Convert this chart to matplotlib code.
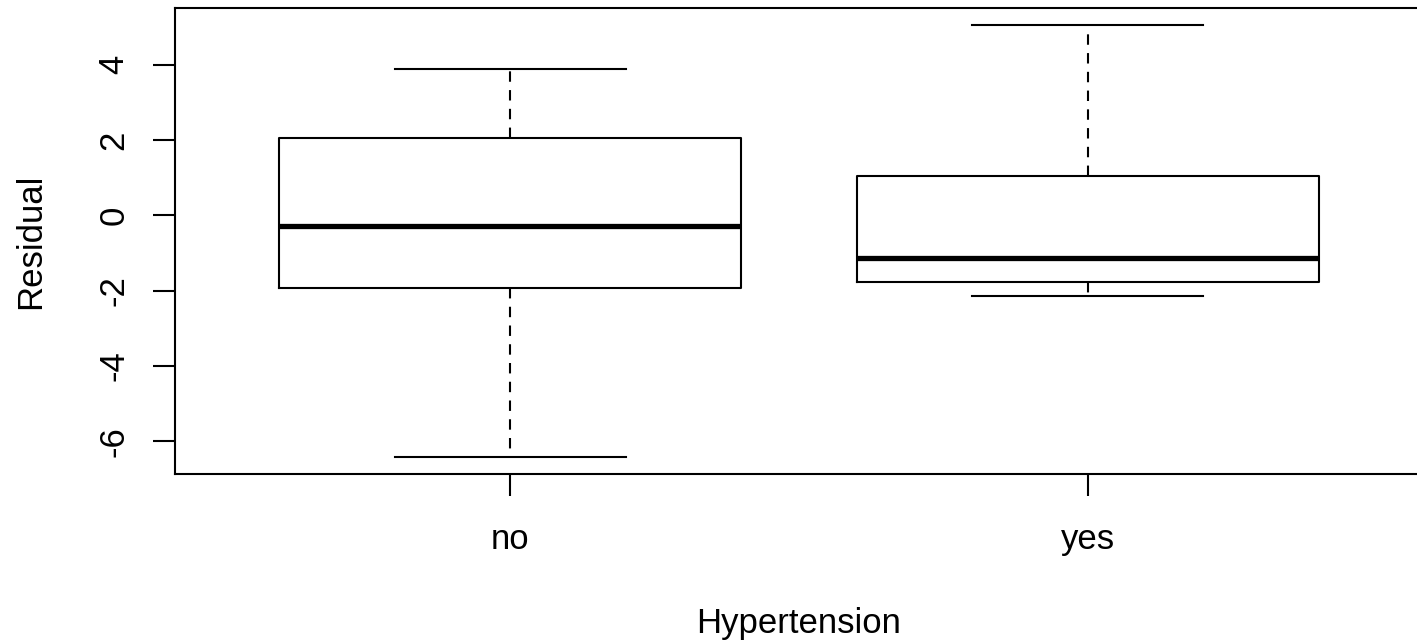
import matplotlib.pyplot as plt

plt.rcParams['font.family'] = ['Liberation Sans', 'DejaVu Sans']

groups = ['no', 'yes']
whislo = [-6.41, -2.13]
q1 = [-1.94, -1.78]
med = [-0.27, -1.12]
q3 = [2.07, 1.04]
whishi = [3.88, 5.05]

stats = []
for i in range(len(groups)):
    stats.append({'label': groups[i], 'whislo': whislo[i], 'q1': q1[i], 'med': med[i],
                  'q3': q3[i], 'whishi': whishi[i], 'fliers': []})

fig = plt.figure(figsize=(14.17, 6.42), dpi=100)
ax = fig.add_axes([0.1235, 0.2617, 0.8807, 0.7258])

ax.bxp(stats, positions=[1, 2], widths=0.8, showfliers=False,
       boxprops=dict(color='black', linewidth=1.5),
       medianprops=dict(color='black', linewidth=3.8, solid_capstyle='butt'),
       whiskerprops=dict(color='black', linewidth=1.5, linestyle=(0, (5, 4))),
       capprops=dict(color='black', linewidth=1.5),
       capwidths=0.4)

ax.set_xlim(0.42, 2.58)
ax.set_ylim(-6.87, 5.51)
ax.set_yticks([-6, -4, -2, 0, 2, 4])
ax.set_yticklabels(['-6', '-4', '-2', '0', '2', '4'], rotation=90, va='center')
ax.tick_params(axis='both', length=16, width=1.5, labelsize=25)
ax.tick_params(axis='y', pad=16)
ax.tick_params(axis='x', pad=19)
for s in ax.spines.values():
    s.set_linewidth(1.5)

ax.set_xlabel('Hypertension', fontsize=25, labelpad=37)
ax.set_ylabel('Residual', fontsize=25, labelpad=36)

fig.savefig('out.png', dpi=100)
